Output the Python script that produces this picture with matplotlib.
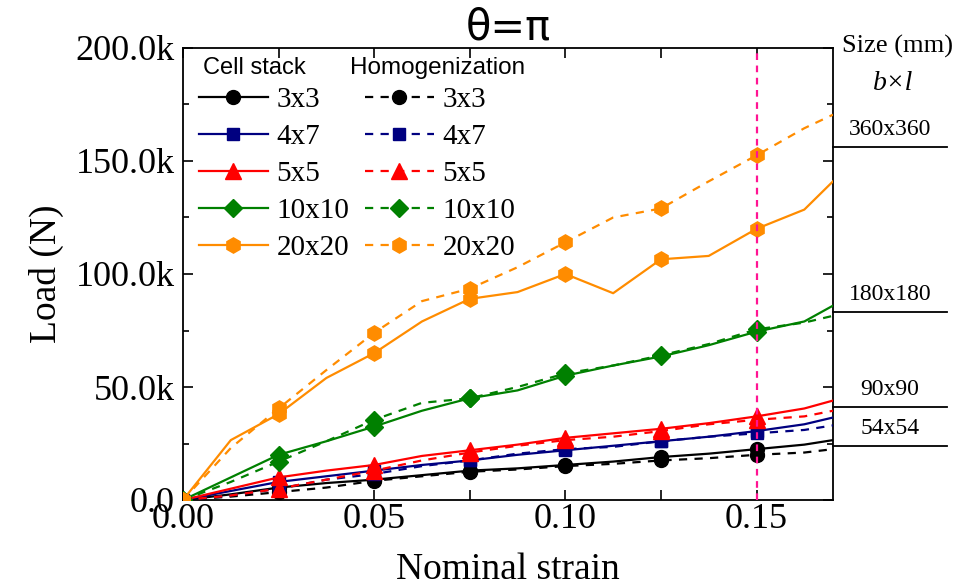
import numpy as np
import matplotlib
matplotlib.use("Agg")
import matplotlib.pyplot as plt
from matplotlib.lines import Line2D
from matplotlib.ticker import MultipleLocator
import matplotlib.transforms as mtransforms

plt.rcParams['font.family'] = ['Liberation Serif', 'DejaVu Serif']

# Nominal strain sampling points
strain = [0, 0.0125, 0.025, 0.0375, 0.05, 0.0625, 0.075, 0.0875,
          0.1, 0.1125, 0.125, 0.1375, 0.15, 0.1625, 0.17]

# Load in kN, cell-stack models
cell_3x3 = [0, 2.5, 5.5, 7.5, 9, 11, 13, 14, 15.5, 17, 19, 20.5, 22.5, 24.5, 26.5]
cell_4x7 = [0, 4, 8, 10.5, 13, 15.5, 17.5, 20, 22, 24, 26, 28, 30.5, 33.5, 36.5]
cell_5x5 = [0, 5, 10, 13, 15.5, 19.5, 22, 24.5, 27.5, 29.5, 31.5, 34, 37, 40.5, 44]
cell_10x10 = [0, 10, 20, 26, 32.5, 39.5, 45, 48.5, 55, 59.5, 63.5, 68.5, 74.5, 79, 86]
cell_20x20 = [0, 26.5, 38, 54, 65, 79, 89, 92, 100, 91.5, 106.5, 108, 120, 128.5, 141]

# Load in kN, homogenized models
homo_3x3 = [0, 1.5, 3.5, 5.5, 8.5, 10.5, 12.5, 13.5, 15, 16, 17.5, 18.5, 20, 21, 22.5]
homo_4x7 = [0, 2, 5, 9, 11.5, 15, 17.5, 20.5, 22.5, 23.5, 26, 28, 29.5, 31, 33]
homo_5x5 = [0, 2, 5, 9, 13, 17.5, 21, 24, 26.5, 28, 30.5, 33.5, 35.5, 37, 39.5]
homo_10x10 = [0, 8, 17, 26, 35.5, 43, 45, 50, 56, 59.5, 64, 69, 75.5, 78.5, 81.5]
homo_20x20 = [0, 23, 40.5, 57.5, 74, 88, 93.5, 103, 114, 125, 129, 141, 152.5, 164.5, 170.5]

grid_labels = ['3x3', '4x7', '5x5', '10x10', '20x20']
specimen_sizes = ['54x54', '90x90', '180x180', '360x360']
specimen_levels = [24, 41, 83, 156]  # kN, reference levels on the right margin

xtick_vals = [0, 0.05, 0.10, 0.15]
xtick_labels = ['0.00', '0.05', '0.10', '0.15']
ytick_vals = [0, 50, 100, 150, 200]
ytick_labels = ['0.0', '50.0k', '100.0k', '150.0k', '200.0k']

colors = ['black', '#000080', '#ff0000', '#008000', '#ff8c00']
markers = ['o', 's', '^', 'D', 'h']
msizes = [10, 9, 11, 9, 11]

cell = [cell_3x3, cell_4x7, cell_5x5, cell_10x10, cell_20x20]
homo = [homo_3x3, homo_4x7, homo_5x5, homo_10x10, homo_20x20]

fig = plt.figure(figsize=(9.77, 5.87), dpi=100)
W, H = 977, 587
ax = fig.add_axes([183 / W, 1 - 500 / H, 650 / W, 452 / H])

x = np.array(strain)
marks = slice(0, 13, 2)
dash = (0, (3.7, 3.3))
solid_handles, dashed_handles = [], []
for c_vals, h_vals, col, mk, ms, lab in zip(cell, homo, colors, markers, msizes, grid_labels):
    ax.plot(x, np.array(c_vals) * 1e3, color=col, lw=1.6, marker=mk, ms=ms,
            markevery=marks, zorder=3)
    ax.plot(x, np.array(h_vals) * 1e3, color=col, lw=1.6, ls=dash,
            marker=mk, ms=ms, markevery=marks, zorder=3)
    solid_handles.append(Line2D([], [], color=col, lw=1.6, marker=mk, ms=ms))
    dashed_handles.append(Line2D([], [], color=col, lw=1.6, ls=dash, marker=mk, ms=ms))

ax.axvline(0.15, color='#ff1493', lw=1.6, ls=(0, (3, 2.5)), zorder=5)

ax.set_xlim(0, 0.17)
ax.set_ylim(0, 200e3)
ax.set_xticks(xtick_vals)
ax.set_xticklabels(xtick_labels)
ax.set_yticks([v * 1e3 for v in ytick_vals])
ax.set_yticklabels(ytick_labels)
ax.xaxis.set_minor_locator(MultipleLocator(0.025))
ax.yaxis.set_minor_locator(MultipleLocator(25e3))
ax.tick_params(which='both', direction='in', top=True, right=True, width=1.2)
ax.tick_params(which='major', length=7)
ax.tick_params(axis='x', which='minor', length=7)
ax.tick_params(axis='y', which='minor', length=4)
ax.tick_params(axis='y', labelsize=26, pad=6)
ax.tick_params(axis='x', labelsize=26, pad=2)
for s in ax.spines.values():
    s.set_linewidth(1.3)

ax.set_xlabel('Nominal strain', fontsize=27, labelpad=12)
ax.set_ylabel('Load (N)', fontsize=27, labelpad=8)
ax.set_title('θ=π', fontsize=30, family=['DejaVu Sans'], pad=4)

leg = ax.legend(solid_handles + dashed_handles, grid_labels + grid_labels,
                ncol=2, frameon=False, fontsize=21, handlelength=2.35,
                handletextpad=0.3, columnspacing=0.55, labelspacing=0.36,
                borderpad=0, borderaxespad=0, loc='upper left',
                bbox_to_anchor=(199 / W, 1 - 87 / H),
                bbox_transform=fig.transFigure)

ax.text(203 / W, 1 - 68 / H, 'Cell stack', transform=fig.transFigure,
        fontsize=17, family=['Liberation Sans'], va='center', ha='left')
ax.text(350 / W, 1 - 68 / H, 'Homogenization', transform=fig.transFigure,
        fontsize=17.5, family=['Liberation Sans'], va='center', ha='left')

# Specimen size key on the right margin
fig.text(897 / W, 1 - 46 / H, 'Size (mm)', fontsize=19, ha='center', va='center')
fig.text(893 / W, 1 - 84 / H, 'b×l', fontsize=20, style='italic',
         ha='center', va='center')
margin = mtransforms.blended_transform_factory(ax.transAxes, ax.transData)
for name, lvl in zip(specimen_sizes, specimen_levels):
    ax.plot([1.0, 1.175], [lvl * 1e3, lvl * 1e3], color='black', lw=1.3,
            transform=margin, clip_on=False)
    ax.annotate(name, xy=(1.0877, lvl * 1e3), xycoords=margin,
                xytext=(0, 5), textcoords='offset points',
                ha='center', va='bottom', fontsize=17)

fig.savefig('out.png', dpi=100)
